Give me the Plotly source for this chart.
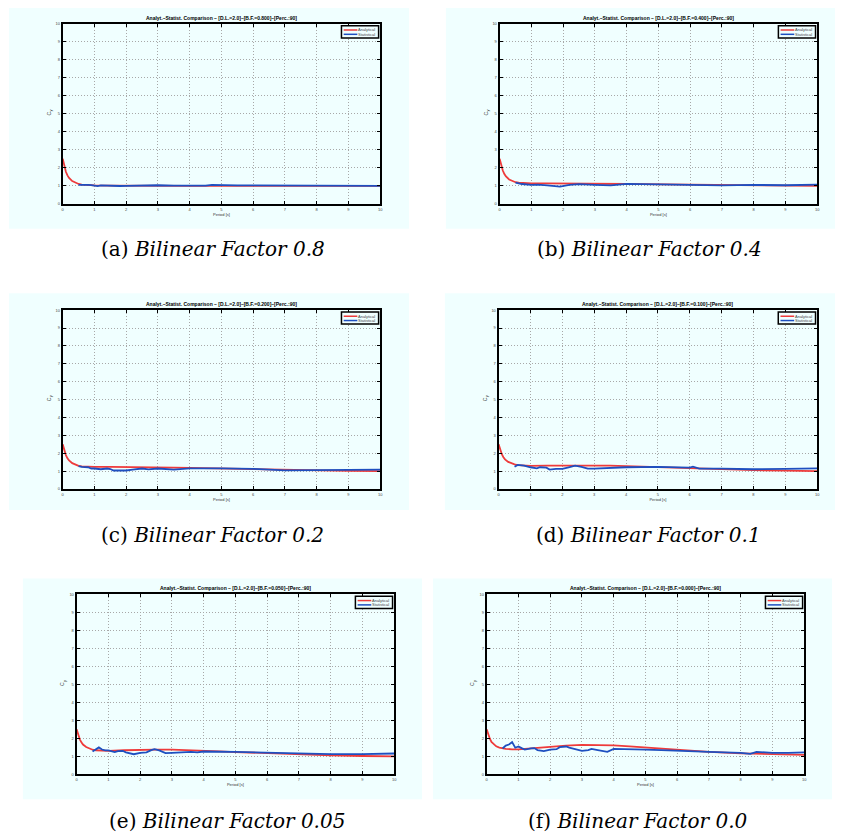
import plotly.graph_objects as go

# ---------------- data ----------------
bilinear_factors = ["0.800", "0.400", "0.200", "0.100", "0.050", "0.000"]
caption_labels = ["(a)", "(b)", "(c)", "(d)", "(e)", "(f)"]
caption_factors = ["0.8", "0.4", "0.2", "0.1", "0.05", "0.0"]

period_analytical = [0, 0.05, 0.1, 0.15, 0.2, 0.3, 0.4, 0.5, 0.6, 0.8, 1.0, 1.5,
                     2.0, 2.5, 3.0, 3.5, 4.0, 4.5, 5.0, 6.0, 7.0, 8.0, 9.0, 10.0]

analytical_a = [2.5, 2.05, 1.78, 1.58, 1.44, 1.26, 1.16, 1.10, 1.07, 1.04, 1.02, 1.01,
                1.0, 1.0, 1.0, 1.0, 1.0, 1.0, 1.0, 1.0, 1.0, 1.0, 1.0, 1.0]
analytical_b = [2.5, 2.1, 1.85, 1.65, 1.52, 1.35, 1.26, 1.2, 1.17, 1.15, 1.14, 1.14,
                1.14, 1.13, 1.12, 1.11, 1.1, 1.09, 1.08, 1.06, 1.04, 1.03, 1.01, 1.0]
analytical_c = [2.5, 2.15, 1.9, 1.72, 1.6, 1.45, 1.36, 1.3, 1.27, 1.25, 1.24, 1.24,
                1.24, 1.23, 1.22, 1.2, 1.18, 1.16, 1.14, 1.1, 1.06, 1.04, 1.02, 1.0]
analytical_d = [2.5, 2.18, 1.95, 1.78, 1.66, 1.52, 1.44, 1.38, 1.34, 1.31, 1.3, 1.31,
                1.32, 1.33, 1.33, 1.31, 1.28, 1.25, 1.21, 1.15, 1.1, 1.06, 1.03, 1.0]
analytical_e = [2.5, 2.18, 1.95, 1.78, 1.66, 1.52, 1.43, 1.37, 1.34, 1.31, 1.31, 1.34,
                1.37, 1.38, 1.38, 1.36, 1.32, 1.28, 1.24, 1.17, 1.11, 1.06, 1.02, 1.0]
analytical_f = [2.5, 2.2, 1.98, 1.8, 1.7, 1.56, 1.49, 1.45, 1.42, 1.39, 1.39, 1.46,
                1.54, 1.6, 1.64, 1.64, 1.61, 1.56, 1.49, 1.35, 1.25, 1.17, 1.12, 1.08]

period_stat_a = [0.5, 0.6, 0.7, 0.8, 0.9, 1.0, 1.1, 1.2, 1.4, 1.6, 1.8, 2.0, 2.5,
                 2.8, 3.0, 3.5, 4.0, 4.5, 4.7, 5.0, 5.5, 6.0, 7.0, 8.0, 9.0, 10.0]
stat_a = [1.05, 1.06, 1.07, 1.05, 1.04, 1.0, 0.98, 1.02, 1.0, 0.98, 0.99, 1.0, 1.01,
          1.05, 1.03, 1.01, 1.0, 1.01, 1.05, 1.03, 1.02, 1.02, 1.01, 1.0, 1.0, 1.0]

period_stat_b = [0.5, 0.7, 1.0, 1.2, 1.5, 1.9, 2.2, 2.5, 3.0, 3.5, 4.0, 4.5, 5.0,
                 5.5, 6.0, 7.0, 8.0, 9.0, 10.0]
stat_b = [1.18, 1.1, 1.05, 1.06, 1.02, 0.96, 1.05, 1.09, 1.05, 1.02, 1.11, 1.09, 1.11,
          1.07, 1.05, 1.02, 1.05, 1.03, 1.07]

period_stat_c = [0.5, 0.6, 0.8, 0.9, 1.0, 1.2, 1.4, 1.5, 1.6, 2.0, 2.2, 2.5, 2.7,
                 3.0, 3.5, 4.0, 5.0, 6.0, 7.0, 8.0, 9.0, 10.0]
stat_c = [1.29, 1.24, 1.22, 1.15, 1.15, 1.11, 1.15, 1.12, 1.04, 1.04, 1.09, 1.15, 1.1,
          1.15, 1.09, 1.16, 1.16, 1.13, 1.05, 1.07, 1.07, 1.09]

period_stat_d = [0.5, 0.6, 0.8, 0.9, 1.0, 1.2, 1.3, 1.5, 1.6, 1.8, 2.0, 2.2, 2.4,
                 2.6, 2.8, 3.0, 3.5, 4.0, 5.0, 5.5, 6.0, 6.1, 6.3, 7.0, 8.0, 9.0, 10.0]
stat_d = [1.25, 1.35, 1.31, 1.25, 1.22, 1.16, 1.22, 1.2, 1.09, 1.13, 1.13, 1.22, 1.31,
          1.24, 1.14, 1.14, 1.18, 1.22, 1.24, 1.2, 1.2, 1.25, 1.14, 1.14, 1.11, 1.13, 1.16]

period_stat_e = [0.5, 0.6, 0.7, 0.8, 0.9, 1.0, 1.1, 1.2, 1.3, 1.45, 1.55, 1.7, 1.8,
                 2.0, 2.2, 2.35, 2.45, 2.6, 2.8, 3.0, 3.3, 3.6, 3.8, 4.0, 5.0, 6.0,
                 7.0, 8.0, 9.0, 10.0]
stat_e = [1.27, 1.38, 1.5, 1.38, 1.33, 1.33, 1.27, 1.24, 1.29, 1.31, 1.22, 1.14, 1.12,
          1.2, 1.22, 1.35, 1.4, 1.33, 1.18, 1.2, 1.24, 1.25, 1.22, 1.27, 1.25, 1.2,
          1.14, 1.12, 1.12, 1.16]

period_stat_f = [0.5, 0.6, 0.7, 0.8, 0.9, 1.0, 1.1, 1.2, 1.4, 1.5, 1.6, 1.8, 2.0,
                 2.2, 2.3, 2.5, 2.6, 2.8, 3.0, 3.2, 3.3, 3.5, 3.8, 4.0, 4.5, 5.0,
                 5.5, 6.0, 7.0, 8.0, 8.3, 8.5, 9.0, 9.5, 10.0]
stat_f = [1.44, 1.6, 1.66, 1.79, 1.48, 1.55, 1.46, 1.38, 1.44, 1.46, 1.35, 1.29, 1.38,
          1.4, 1.51, 1.55, 1.49, 1.38, 1.31, 1.35, 1.42, 1.35, 1.25, 1.42, 1.38, 1.37,
          1.35, 1.31, 1.25, 1.2, 1.14, 1.25, 1.2, 1.2, 1.22]

analytical_series = [analytical_a, analytical_b, analytical_c, analytical_d, analytical_e, analytical_f]
stat_periods = [period_stat_a, period_stat_b, period_stat_c, period_stat_d, period_stat_e, period_stat_f]
stat_series = [stat_a, stat_b, stat_c, stat_d, stat_e, stat_f]

tick_values = list(range(0, 11))

# ---------------- layout (pixel geometry) ----------------
W, H = 846, 839
plot_boxes = [  # x0, x1, y_top, y_bottom in pixels
    (62, 381, 21, 202), (501, 820, 21, 202),
    (62, 381, 309, 489), (500, 820, 309, 489),
    (76, 395, 595, 776), (488, 807, 595, 776),
]
panel_boxes = [
    (8, 410, 5, 227), (447, 838, 5, 227),
    (8, 410, 292, 510), (446, 838, 292, 510),
    (22, 423, 579, 801), (434, 835, 579, 801),
]
caption_pos = [(213, 247), (652, 247), (213, 535), (651, 535), (227, 823), (640, 823)]

BG = "#F0FFFF"
RED = "#EE3B3B"
BLUE = "#1E4FC0"
SANS = "Liberation Sans, Arial, sans-serif"


def px(x):
    return x / W


def py(y):
    return 1 - y / H


fig = go.Figure()
shapes = []
annotations = []

for p in panel_boxes:
    shapes.append(dict(type="rect", xref="paper", yref="paper",
                       x0=px(p[0]), x1=px(p[1]), y0=py(p[3]), y1=py(p[2]),
                       fillcolor=BG, line=dict(width=0), layer="below"))

for i in range(6):
    n = "" if i == 0 else str(i + 1)
    xa, ya = "x" + n, "y" + n
    xd, yd = xa + " domain", ya + " domain"
    fig.add_trace(go.Scatter(x=period_analytical, y=analytical_series[i], mode="lines",
                             line=dict(color=RED, width=1.8), name="Analytical",
                             xaxis=xa, yaxis=ya, showlegend=False))
    fig.add_trace(go.Scatter(x=stat_periods[i], y=stat_series[i], mode="lines",
                             line=dict(color=BLUE, width=1.8), name="Statistical",
                             xaxis=xa, yaxis=ya, showlegend=False))

    b = plot_boxes[i]
    common = dict(range=[0, 10], tickvals=tick_values, ticks="inside", ticklen=3,
                  tickcolor="black", tickwidth=1, showline=True, linecolor="black",
                  linewidth=2, mirror="allticks", showgrid=True, gridcolor="#A8A8A8",
                  griddash="1px,2px", gridwidth=1, zeroline=False,
                  tickfont=dict(size=4, color="#444444", family=SANS))
    fig.layout["xaxis" + n] = dict(common, domain=[px(b[0]), px(b[1])], anchor=ya,
                                   title=dict(text="Period [s]", standoff=2,
                                              font=dict(size=4, color="#333333", family=SANS)))
    fig.layout["yaxis" + n] = dict(common, domain=[py(b[3]), py(b[2])], anchor=xa)

    # y-axis label C_y (rotated, subscript drawn as a smaller text)
    annotations.append(dict(xref=xd, yref=yd, x=0, y=0.5, xshift=-14, textangle=-90,
                            xanchor="center", yanchor="middle", showarrow=False,
                            text="C", font=dict(size=5, color="#333333", family=SANS)))
    annotations.append(dict(xref=xd, yref=yd, x=0, y=0.5, xshift=-12, yshift=3,
                            textangle=-90, xanchor="center", yanchor="middle",
                            showarrow=False, text="y",
                            font=dict(size=4, color="#333333", family=SANS)))

    # subplot title
    annotations.append(dict(xref=xd, yref=yd, x=0.5, y=1,
                            yanchor="bottom", yshift=1, showarrow=False,
                            text="<b>Analyt.–Statist. Comparison – [D.L.=2.0]–[B.F.="
                                 + bilinear_factors[i] + "]–[Perc.:90]</b>",
                            font=dict(size=5, color="black", family=SANS)))

    # legend box
    shapes.append(dict(type="rect", xref=xd, yref=yd,
                       x0=0.878, x1=0.995, y0=0.922, y1=0.99,
                       fillcolor=BG, line=dict(color="black", width=1.5)))
    for yy, col, lab in [(0.966, RED, "Analytical"), (0.942, BLUE, "Statistical")]:
        shapes.append(dict(type="line", xref=xd, yref=yd,
                           x0=0.885, x1=0.928, y0=yy, y1=yy,
                           line=dict(color=col, width=1.5)))
        annotations.append(dict(xref=xd, yref=yd, x=0.99, y=yy,
                                xanchor="right", yanchor="middle", showarrow=False,
                                text=lab, font=dict(size=4, color="#444444", family=SANS)))

    # caption
    cx, cy = caption_pos[i]
    annotations.append(dict(xref="paper", yref="paper", x=px(cx), y=py(cy),
                            xanchor="center", yanchor="middle", showarrow=False,
                            text=caption_labels[i] + " <i>Bilinear Factor " + caption_factors[i] + "</i>",
                            font=dict(size=20, color="black", family="DejaVu Serif, serif")))

fig.update_layout(width=W, height=H, margin=dict(l=0, r=0, t=0, b=0),
                  paper_bgcolor="white", plot_bgcolor=BG, showlegend=False,
                  shapes=shapes, annotations=annotations)

fig.write_html("out.html", config={"displayModeBar": False},
               post_script="document.body.style.margin='0';")
